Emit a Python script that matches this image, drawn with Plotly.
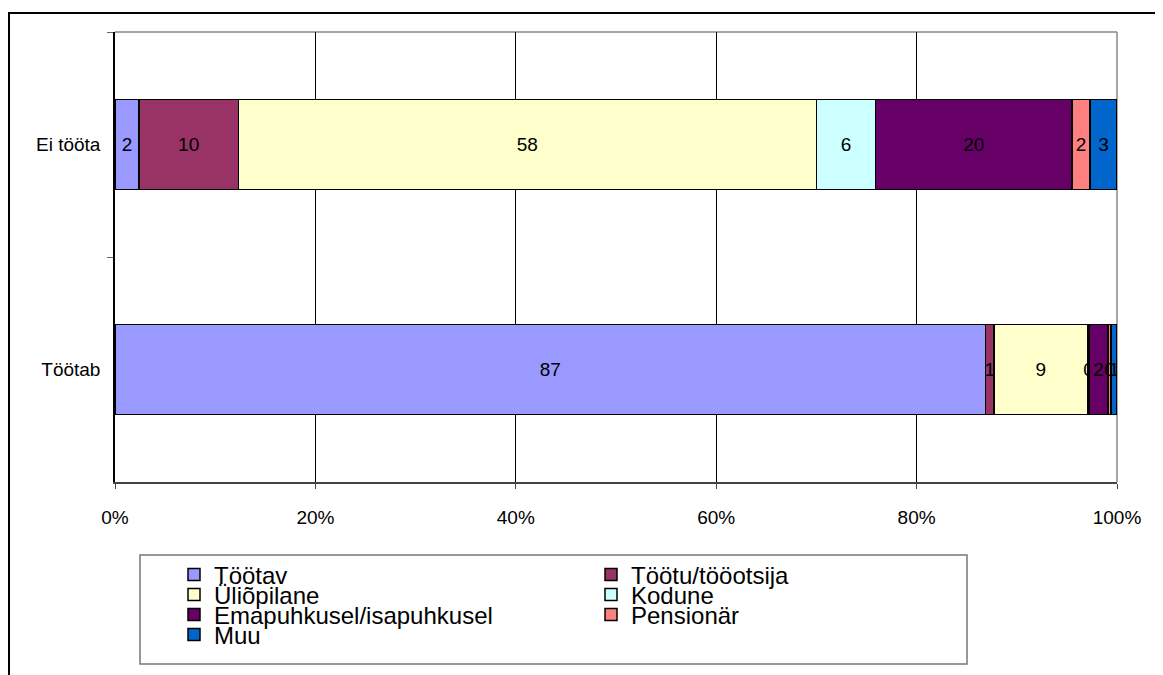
import plotly.graph_objects as go

categories = ["Ei tööta", "Töötab"]
series_names = ["Töötav", "Töötu/tööotsija", "Üliõpilane", "Kodune",
                "Emapuhkusel/isapuhkusel", "Pensionär", "Muu"]
# percentage shares per category (Ei tööta, Töötab)
values = {
    "Töötav": [2.4, 86.9],
    "Töötu/tööotsija": [9.9, 0.8],
    "Üliõpilane": [57.7, 9.4],
    "Kodune": [5.9, 0.1],
    "Emapuhkusel/isapuhkusel": [19.6, 1.9],
    "Pensionär": [1.8, 0.3],
    "Muu": [2.7, 0.6],
}
labels = {
    "Töötav": ["2", "87"],
    "Töötu/tööotsija": ["10", "1"],
    "Üliõpilane": ["58", "9"],
    "Kodune": ["6", "0"],
    "Emapuhkusel/isapuhkusel": ["20", "2"],
    "Pensionär": ["2", "0"],
    "Muu": ["3", "1"],
}
colors = ["#9999FF", "#993366", "#FFFFCC", "#CCFFFF", "#660066", "#FF8080", "#0066CC"]
x_ticks = [0, 20, 40, 60, 80, 100]
x_ticktext = ["0%", "20%", "40%", "60%", "80%", "100%"]

FONT = "Liberation Sans, Arial, sans-serif"
OFF = 8  # page body margin
W, H = 1163 - OFF, 675 - OFF
L, R, T, B = 115 - OFF, 1117 - OFF, 32 - OFF, 482 - OFF
pw, ph = R - L, B - T

def px2x(x):
    return (x - OFF - L) / pw

def px2y(y):
    return (B - (y - OFF)) / ph

legend_names = ["legend", "legend", "legend2", "legend2", "legend3", "legend3", "legend4"]

fig = go.Figure()
for i, name in enumerate(series_names):
    fig.add_trace(go.Bar(
        y=categories, x=values[name], name=name, orientation="h",
        marker=dict(color=colors[i], line=dict(color="black", width=1.5)),
        text=labels[name], textposition="inside", insidetextanchor="middle",
        textangle=0, constraintext="none",
        textfont=dict(family=FONT, size=19, color="black"),
        width=0.4, legend=legend_names[i], hoverinfo="skip",
    ))

row_centers = [575, 595, 615, 635]
leg_common = dict(orientation="h", xanchor="left", yanchor="middle",
                  x=px2x(174), font=dict(family=FONT, size=24, color="black"),
                  bgcolor="rgba(0,0,0,0)", borderwidth=0, entrywidth=372,
                  entrywidthmode="pixels", itemclick=False, tracegroupgap=0,
                  traceorder="normal")

fig.update_layout(
    width=W, height=H,
    margin=dict(l=L, r=W - R, t=T, b=H - B, autoexpand=False),
    paper_bgcolor="white", plot_bgcolor="white",
    barmode="stack", bargap=0.6,
    uniformtext=dict(minsize=19, mode="show"),
    font=dict(family=FONT, size=19, color="black"),
    showlegend=True,
    legend=dict(y=px2y(row_centers[0]), **leg_common),
    legend2=dict(y=px2y(row_centers[1]), **leg_common),
    legend3=dict(y=px2y(row_centers[2]), **leg_common),
    legend4=dict(y=px2y(row_centers[3]), **leg_common),
    xaxis=dict(range=[0, 100], tickvals=x_ticks, ticktext=x_ticktext,
               showgrid=True, gridcolor="black", gridwidth=1,
               showline=True, linecolor="#444444", linewidth=1.5,
               ticks="outside", ticklen=5, tickcolor="#444444",
               ticklabelstandoff=12, zeroline=False,
               tickfont=dict(family=FONT, size=19, color="black")),
    yaxis=dict(autorange="reversed", tickson="boundaries",
               ticks="outside", ticklen=6, tickcolor="#666666",
               showline=True, linecolor="black", linewidth=1.5,
               showgrid=False, ticklabelstandoff=9,
               tickfont=dict(family=FONT, size=19, color="black")),
    shapes=[
        # plot area top and right border
        dict(type="line", xref="paper", yref="paper", x0=0, x1=1, y0=1, y1=1,
             line=dict(color="#888888", width=1.5), layer="below"),
        dict(type="line", xref="paper", yref="paper", x0=1, x1=1, y0=0, y1=1,
             line=dict(color="#888888", width=1.5), layer="below"),
        # legend box
        dict(type="rect", xref="paper", yref="paper",
             x0=px2x(140), x1=px2x(967), y0=px2y(664), y1=px2y(555),
             line=dict(color="#777777", width=1.5), fillcolor="rgba(0,0,0,0)"),
        # outer chart border
        dict(type="rect", xref="paper", yref="paper",
             x0=px2x(9), x1=px2x(1180), y0=px2y(700), y1=px2y(13),
             line=dict(color="black", width=2), fillcolor="rgba(0,0,0,0)"),
    ],
)

fig.write_html("out.html")
